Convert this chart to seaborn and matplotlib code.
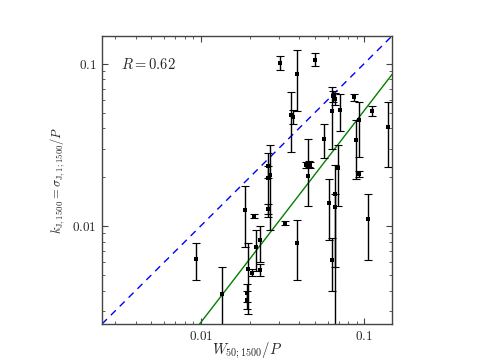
import matplotlib
matplotlib.use("Agg")
import matplotlib.pyplot as plt
import matplotlib.ticker as mticker
import numpy as np
import pandas as pd
import seaborn as sns

# data
x_vals = [0.00936, 0.01343, 0.01874, 0.0211, 0.0194, 0.0192, 0.0192, 0.0207,
          0.0217, 0.0230, 0.0232, 0.0257, 0.0257, 0.0257, 0.0267, 0.0306,
          0.0500, 0.0390, 0.0356, 0.0369, 0.0330, 0.0387, 0.0440, 0.0457,
          0.0465, 0.0451, 0.0565, 0.0612, 0.0632, 0.0632, 0.0644, 0.0659,
          0.0659, 0.0661, 0.0694, 0.0714, 0.0870, 0.0885, 0.0929, 0.0929,
          0.1055, 0.1120, 0.1406]
y_vals = [0.0063, 0.00381, 0.01253, 0.01156, 0.00545, 0.00388, 0.00352, 0.00513,
          0.0074, 0.0082, 0.00535, 0.0234, 0.0197, 0.0127, 0.0206, 0.101,
          0.106, 0.086, 0.048, 0.0471, 0.0104, 0.0078, 0.0238, 0.0240,
          0.0239, 0.0204, 0.0345, 0.0139, 0.0062, 0.0509, 0.063, 0.0607,
          0.0157, 0.0131, 0.0227, 0.0518, 0.062, 0.0339, 0.0449, 0.0208,
          0.0110, 0.0509, 0.0407]
y_low = [0.00467, 0.0020, 0.0074, 0.0112, 0.00288, 0.0034, 0.0031, 0.0049,
         0.0053, 0.0060, 0.0049, 0.0197, 0.0114, 0.0118, 0.0094, 0.092,
         0.097, 0.051, 0.0284, 0.0425, 0.0101, 0.00465, 0.0228, 0.0230,
         0.0229, 0.0133, 0.0264, 0.0082, 0.00395, 0.0296, 0.058, 0.056,
         0.0010, 0.0056, 0.0132, 0.0385, 0.059, 0.0194, 0.0266, 0.0199,
         0.0062, 0.0475, 0.0231]
y_high = [0.0079, 0.00555, 0.01754, 0.0119, 0.0079, 0.0044, 0.0040, 0.0054,
          0.0095, 0.0100, 0.0058, 0.0280, 0.0234, 0.0136, 0.0317, 0.111,
          0.116, 0.121, 0.067, 0.0515, 0.0108, 0.0109, 0.0248, 0.0250,
          0.0249, 0.0345, 0.0423, 0.0194, 0.0084, 0.0716, 0.068, 0.066,
          0.0236, 0.0157, 0.0317, 0.0648, 0.065, 0.045, 0.058, 0.0217,
          0.0158, 0.0545, 0.0582]

axis_min, axis_max = 0.00249, 0.148
fit_norm, fit_x0, fit_slope = 0.00254, 0.01, 1.306
r_text = r"$R = 0.62$"

df = pd.DataFrame({"x": x_vals, "y": y_vals, "lo": y_low, "hi": y_high})

sns.set_style("ticks")
plt.rcParams["mathtext.fontset"] = "cm"
plt.rcParams["font.family"] = ["DejaVu Serif"]

fig = plt.figure(figsize=(4.82, 3.61), dpi=100)
ax = fig.add_axes([0.2116, 0.1025, 0.6017, 0.7978])

# reference lines
line_x = np.array([axis_min, axis_max])
ax.plot(line_x, line_x, color="blue", ls=(0, (5, 4)), lw=1.0, zorder=1)
ax.plot(line_x, fit_norm * (line_x / fit_x0) ** fit_slope, color="green", lw=1.0, zorder=1)

ax.errorbar(df["x"], df["y"],
            yerr=[df["y"] - df["lo"], df["hi"] - df["y"]],
            fmt="none", ecolor="black", elinewidth=1.0, capsize=3,
            capthick=0.8, zorder=2)
sns.scatterplot(data=df, x="x", y="y", ax=ax, color="black", marker="s",
                s=6, linewidth=0, zorder=3, legend=False)

ax.set_xscale("log")
ax.set_yscale("log")
ax.set_xlim(axis_min, axis_max)
ax.set_ylim(axis_min, axis_max)

fmt = mticker.FuncFormatter(lambda v, p: {0.01: r"$0.01$", 0.1: r"$0.1$"}.get(round(v, 4), ""))
ax.xaxis.set_major_formatter(fmt)
ax.yaxis.set_major_formatter(fmt)
ax.xaxis.set_minor_formatter(mticker.NullFormatter())
ax.yaxis.set_minor_formatter(mticker.NullFormatter())
ax.tick_params(which="both", direction="in", top=True, right=True, labelsize=9.5,
               color="#444444")
ax.tick_params(which="major", length=4, width=0.8, pad=4)
ax.tick_params(which="minor", length=2, width=0.6)
for s in ax.spines.values():
    s.set_color("#444444")
    s.set_linewidth(1.0)

ax.set_xlabel(r"$W_{50;1500}/P$", fontsize=10.5)
ax.xaxis.set_label_coords(0.5, -0.055)
ax.set_ylabel(r"$k_{\rm J,1500} = \sigma_{\rm J,1;1500}/P$", fontsize=9)
ax.yaxis.set_label_coords(-0.12, 0.5)
ax.text(0.065, 0.9, r_text, transform=ax.transAxes, fontsize=10.5, va="center")

fig.savefig("out.png", dpi=100)
